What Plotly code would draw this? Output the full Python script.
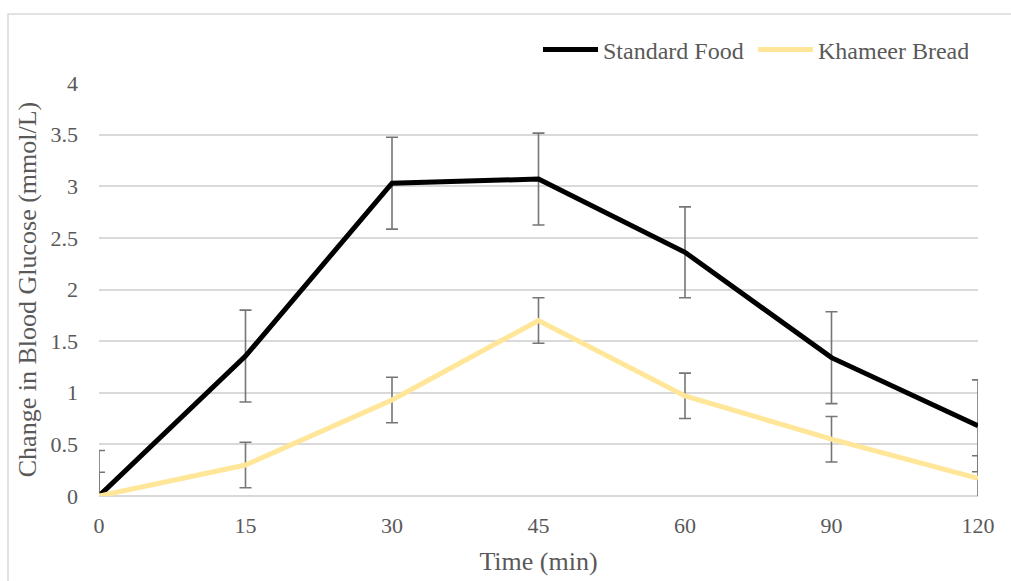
import plotly.graph_objects as go

times = ["0", "15", "30", "45", "60", "90", "120"]
standard_food = [0, 1.355, 3.03, 3.07, 2.36, 1.34, 0.68]
standard_food_err = [0.44, 0.445, 0.445, 0.445, 0.44, 0.445, 0.445]
khameer_bread = [0, 0.30, 0.93, 1.70, 0.97, 0.55, 0.17]
khameer_bread_err = [0.23, 0.22, 0.22, 0.22, 0.22, 0.22, 0.22]
y_ticks = [0, 0.5, 1, 1.5, 2, 2.5, 3, 3.5, 4]
y_tick_labels = ["0", "0.5", "1", "1.5", "2", "2.5", "3", "3.5", "4"]

FONT = '"Liberation Serif", "Times New Roman", serif'
TXT = "#595959"
GRID = "#d9d9d9"
ERR = "#767676"

fig = go.Figure()
fig.add_trace(go.Scatter(
    x=times, y=standard_food, name="Standard Food", mode="lines",
    line=dict(color="#000000", width=5),
    error_y=dict(type="data", array=standard_food_err, visible=True,
                 color=ERR, thickness=1.6, width=6),
))
fig.add_trace(go.Scatter(
    x=times, y=khameer_bread, name="Khameer Bread", mode="lines",
    line=dict(color="#FFE699", width=5),
    error_y=dict(type="data", array=khameer_bread_err, visible=True,
                 color=ERR, thickness=1.6, width=6),
))

W, H = 1011, 581
L, R, T, B = 99, 33, 83, 85
pw, ph = W - L - R, H - T - B

def px_x(p):
    return (p - L) / pw

def px_y(p):
    return (H - B - p) / ph

fig.update_layout(
    width=W, height=H,
    margin=dict(l=L, r=R, t=T, b=B, pad=0),
    paper_bgcolor="white", plot_bgcolor="white",
    font=dict(family=FONT, color=TXT, size=22),
    showlegend=True,
    legend=dict(
        orientation="h", x=px_x(538), y=px_y(50), xanchor="left", yanchor="middle",
        font=dict(family=FONT, color=TXT, size=24),
        bgcolor="rgba(0,0,0,0)", itemwidth=55, tracegroupgap=0,
        entrywidth=145, entrywidthmode="pixels",
    ),
    xaxis=dict(
        type="category", range=[0, 6], showgrid=False, zeroline=False,
        showline=False, ticks="", tickfont=dict(size=22, color=TXT, family=FONT),
        ticklabelstandoff=14,
        title=dict(text="Time (min)", font=dict(size=26, color=TXT, family=FONT), standoff=14),
    ),
    yaxis=dict(
        range=[0, 4], tickvals=y_ticks, ticktext=y_tick_labels,
        showgrid=True, gridcolor=GRID, gridwidth=1.5,
        zeroline=True, zerolinecolor=GRID, zerolinewidth=1.5,
        showline=False, ticks="", tickfont=dict(size=22, color=TXT, family=FONT),
        ticklabelstandoff=20,
        title=dict(text="Change in Blood Glucose (mmol/L)",
                   font=dict(size=26, color=TXT, family=FONT), standoff=6),
    ),
    shapes=[dict(
        type="rect", xref="paper", yref="paper",
        x0=px_x(8), x1=px_x(1030), y0=px_y(600), y1=px_y(14),
        line=dict(color="#d9d9d9", width=1.5), layer="below",
    )],
)

fig.write_html("out.html", config={"displayModeBar": False},
               post_script="document.body.style.margin='0';")
